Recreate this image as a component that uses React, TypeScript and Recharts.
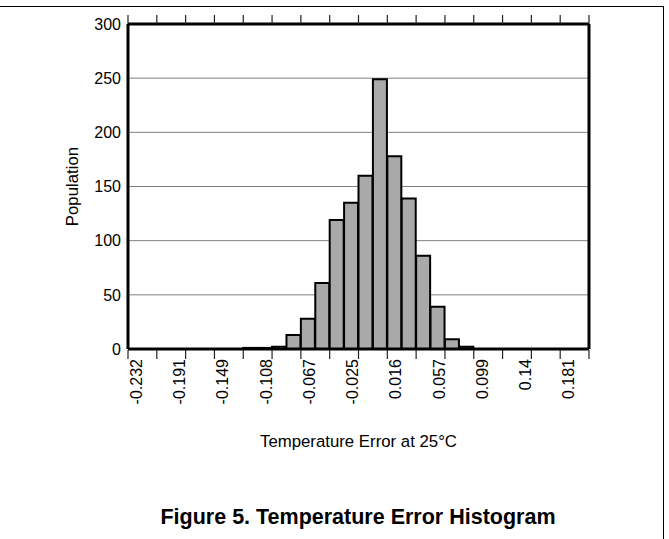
import React from 'react';
import { BarChart, Bar, XAxis, YAxis, CartesianGrid } from 'recharts';

// bin centres of the histogram (every third one is labelled)
const binLabels = [
  '-0.232', '-0.218', '-0.205', '-0.191', '-0.177', '-0.163', '-0.149', '-0.136',
  '-0.122', '-0.108', '-0.094', '-0.081', '-0.067', '-0.053', '-0.039', '-0.025',
  '-0.012', '0.002', '0.016', '0.030', '0.044', '0.057', '0.071', '0.085',
  '0.099', '0.113', '0.126', '0.14', '0.154', '0.168', '0.181', '0.195',
];
const population = [
  0, 0, 0, 0, 0, 0, 0, 0, 1, 1, 2, 13, 28, 61, 119, 135,
  160, 249, 178, 139, 86, 39, 9, 2, 0, 0, 0, 0, 0, 0, 0, 0,
];
const yTicks = [0, 50, 100, 150, 200, 250, 300];
// bin edges that carry a tick mark (every second edge)
const edgeTicks = [0, 2, 4, 6, 8, 10, 12, 14, 16, 18, 20, 22, 24, 26, 28, 30, 32];

const data = binLabels.map((bin, i) => ({ bin, pos: i + 0.5, count: population[i] }));

const font = '"Liberation Sans", Arial, Helvetica, sans-serif';
const tickStroke = { stroke: '#222', strokeWidth: 1.2 };
const border = { stroke: '#000', strokeWidth: 3 };
const blank = () => '';

const BinTick = (props: any) => {
  const { x, y, payload } = props;
  return (
    <text x={x} y={y} transform={`rotate(-90, ${x}, ${y})`} textAnchor="end" dominantBaseline="central"
      fill="#000" fontSize={16} fontFamily={font}>
      <tspan dy="0.05em">{payload.value}</tspan>
    </text>
  );
};

export default function App() {
  return (
    <div style={{ position: 'absolute', left: 0, top: 0, width: 669, height: 539, background: '#fff', fontFamily: font, overflow: 'hidden' }}>
      <div style={{ position: 'absolute', left: -4, top: 6, width: 668, height: 540, borderTop: '1.5px solid #000', borderRight: '1.5px solid #000', boxSizing: 'border-box' }} />
      <BarChart width={669} height={539} data={data} barCategoryGap={0}
        margin={{ top: 23, right: 79, bottom: 0, left: 0 }} style={{ position: 'absolute', left: 0, top: 0 }}>
        <CartesianGrid vertical={false} stroke="#808080" strokeWidth={1} />
        <XAxis dataKey="bin" interval={2} height={1} tickLine={false} axisLine={border} tickSize={5} tickMargin={5}
          tick={<BinTick />} />
        <XAxis xAxisId="edge" type="number" dataKey="pos" domain={[0, 32]} ticks={edgeTicks} height={189}
          tickFormatter={blank} tickSize={9} tickLine={tickStroke} axisLine={false}
          label={{ value: 'Temperature Error at 25°C', position: 'insideBottom', offset: 92, fill: '#000', fontSize: 16.8, fontFamily: font }} />
        <XAxis xAxisId="top" orientation="top" type="number" dataKey="pos" domain={[0, 32]} ticks={edgeTicks} height={1}
          tickFormatter={blank} tickSize={9} tickLine={tickStroke} axisLine={border} />
        <YAxis domain={[0, 300]} ticks={yTicks} width={128} tickLine={false} axisLine={border} tickMargin={1}
          tick={{ fill: '#000', fontSize: 16, fontFamily: font }}
          label={{ value: 'Population', angle: -90, position: 'insideLeft', offset: 72, fill: '#000', fontSize: 16.8, fontFamily: font, style: { textAnchor: 'middle' } }} />
        <YAxis yAxisId="right" orientation="right" domain={[0, 300]} width={1} tickFormatter={blank} tickLine={false} axisLine={border} />
        <Bar dataKey="count" fill="#a9a9a9" stroke="#000" strokeWidth={2} isAnimationActive={false} />
      </BarChart>
      <div style={{ position: 'absolute', left: 58, top: 504, width: 600, textAlign: 'center', fontSize: 21.5, fontWeight: 700, lineHeight: '26px', color: '#000' }}>
        Figure 5. Temperature Error Histogram
      </div>
    </div>
  );
}
